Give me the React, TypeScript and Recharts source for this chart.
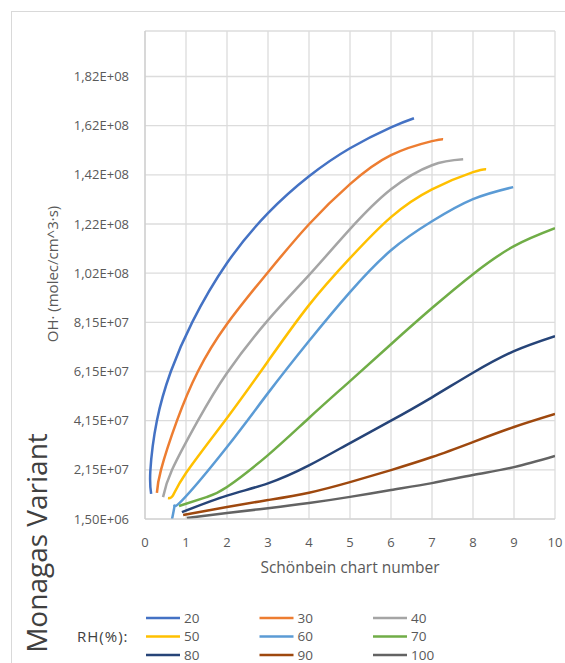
import React from 'react';
import { LineChart, Line, XAxis, YAxis, CartesianGrid } from 'recharts';

// RH levels and Excel-like colours
const rhLevels = ['20', '30', '40', '50', '60', '70', '80', '90', '100'];
const rhColors = ['#4472C4', '#ED7D31', '#A5A5A5', '#FFC000', '#5B9BD5', '#70AD47', '#264478', '#9E480E', '#636363'];

// [chart number, OH production]
const rh20 = [[0.15, 1.17e7], [0.13, 2.1e7], [0.29, 4.15e7], [0.63, 6.15e7], [1.15, 8.15e7], [2, 1.056e8], [3, 1.259e8], [4, 1.409e8], [5, 1.523e8], [6, 1.608e8], [6.56, 1.645e8]];
const rh30 = [[0.29, 1.21e7], [0.39, 2.15e7], [0.78, 4.15e7], [1.29, 6.15e7], [2, 8.08e7], [3, 1.019e8], [4, 1.214e8], [5, 1.377e8], [6, 1.495e8], [7, 1.552e8], [7.27, 1.56e8]];
const rh40 = [[0.44, 1.04e7], [0.66, 2.15e7], [1.29, 4.15e7], [2, 6.09e7], [3, 8.24e7], [4, 1.007e8], [5, 1.194e8], [6, 1.356e8], [7, 1.454e8], [7.76, 1.478e8]];
const rh50 = [[0.56, 1.0e7], [0.68, 1.1e7], [1, 2.02e7], [2, 4.26e7], [3, 6.57e7], [4, 8.85e7], [5, 1.076e8], [6, 1.243e8], [7, 1.356e8], [8, 1.426e8], [8.32, 1.438e8]];
const rh60 = [[0.66, 1.5e6], [0.72, 7.0e6], [0.9, 9.0e6], [2, 3.08e7], [3, 5.27e7], [4, 7.39e7], [5, 9.38e7], [6, 1.108e8], [7, 1.226e8], [8, 1.316e8], [8.98, 1.365e8]];
const rh70 = [[0.83, 6.8e6], [1.5, 1.04e7], [2, 1.45e7], [3, 2.75e7], [4, 4.26e7], [5, 5.76e7], [6, 7.26e7], [7, 8.73e7], [8, 1.011e8], [9, 1.125e8], [10, 1.198e8]];
const rh80 = [[0.9, 4.3e6], [2, 1.1e7], [3, 1.6e7], [4, 2.33e7], [5, 3.24e7], [6, 4.15e7], [7, 5.1e7], [8, 6.1e7], [9, 6.98e7], [10, 7.59e7]];
const rh90 = [[0.93, 3.1e6], [2, 6.4e6], [3, 9.2e6], [4, 1.22e7], [5, 1.65e7], [6, 2.14e7], [7, 2.67e7], [8, 3.28e7], [9, 3.89e7], [10, 4.42e7]];
const rh100 = [[1.02, 1.9e6], [2, 3.9e6], [3, 5.9e6], [4, 8.0e6], [5, 1.05e7], [6, 1.33e7], [7, 1.61e7], [8, 1.94e7], [9, 2.26e7], [10, 2.71e7]];

const curves = [rh20, rh30, rh40, rh50, rh60, rh70, rh80, rh90, rh100];

const xTicks = [0, 1, 2, 3, 4, 5, 6, 7, 8, 9, 10];
const yTicks = [1.5e6, 2.15e7, 4.15e7, 6.15e7, 8.15e7, 1.015e8, 1.215e8, 1.415e8, 1.615e8, 1.815e8];
const yTickLabels = ['1,50E+06', '2,15E+07', '4,15E+07', '6,15E+07', '8,15E+07', '1,02E+08', '1,22E+08', '1,42E+08', '1,62E+08', '1,82E+08'];

const toPoints = (pairs: number[][]) => pairs.map(([x, y]) => ({ x, y }));

const App: React.FC = () => {
  const tickStyle = { fontSize: 13, fill: '#595959' };

  return (
    <div
      style={{
        position: 'absolute',
        left: 0,
        top: 0,
        width: 565,
        height: 663,
        overflow: 'hidden',
        background: '#fff',
        fontFamily: '"Open Sans", sans-serif'
      }}
    >
      {/* chart area border */}
      <div style={{ position: 'absolute', left: 11, top: 11, width: 700, height: 800, border: '1px solid #d9d9d9' }} />

      <div style={{ position: 'absolute', left: 0, top: 0 }}>
        <LineChart width={565} height={663} margin={{ top: 31, right: 10, bottom: 114, left: 65 }}>
          <CartesianGrid stroke="#dcdcdc" strokeWidth={1.3} />
          <XAxis
            type="number"
            dataKey="x"
            domain={[0, 10]}
            ticks={xTicks}
            allowDataOverflow
            height={30}
            tickSize={0}
            tickMargin={19}
            axisLine={{ stroke: '#d0d0d0' }}
            tick={tickStyle}
          />
          <YAxis
            type="number"
            domain={[1.5e6, 2.0e8]}
            ticks={yTicks}
            allowDataOverflow
            width={80}
            tickSize={0}
            tickMargin={16}
            axisLine={{ stroke: '#c8c8c8' }}
            tick={tickStyle}
            tickFormatter={(v: number) => yTickLabels[yTicks.indexOf(v)] ?? ''}
          />
          {curves.map((c, i) => (
            <Line
              key={rhLevels[i]}
              data={toPoints(c)}
              dataKey="y"
              name={rhLevels[i]}
              type="natural"
              stroke={rhColors[i]}
              strokeWidth={2.5}
              dot={false}
              activeDot={false}
              isAnimationActive={false}
            />
          ))}
        </LineChart>
      </div>

      {/* titles and legend */}
      <svg width={565} height={663} style={{ position: 'absolute', left: 0, top: 0, pointerEvents: 'none' }}>
        <text x={58} y={274} transform="rotate(-90 58 274)" textAnchor="middle" fontSize={15} fill="#595959">
          OH· (molec/cm^3·s)
        </text>
        <text x={350} y={573} textAnchor="middle" fontSize={15.5} fill="#595959">
          Schönbein chart number
        </text>
        <text x={47} y={543} transform="rotate(-90 47 543)" textAnchor="middle" fontSize={28} fill="#404040">
          Monagas Variant
        </text>
        <text x={77} y={642} fontSize={15} fill="#404040" letterSpacing={1}>
          RH(%):
        </text>
        {rhLevels.map((lvl, i) => {
          const col = i % 3;
          const row = Math.floor(i / 3);
          const x0 = 146 + col * 113.5;
          const yc = 618 + row * 18.5;
          return (
            <g key={lvl}>
              <line x1={x0} x2={x0 + 34} y1={yc} y2={yc} stroke={rhColors[i]} strokeWidth={2.5} />
              <text x={x0 + 38} y={yc + 4.6} fontSize={13.5} fill="#595959">
                {lvl}
              </text>
            </g>
          );
        })}
      </svg>
    </div>
  );
};

export default App;
